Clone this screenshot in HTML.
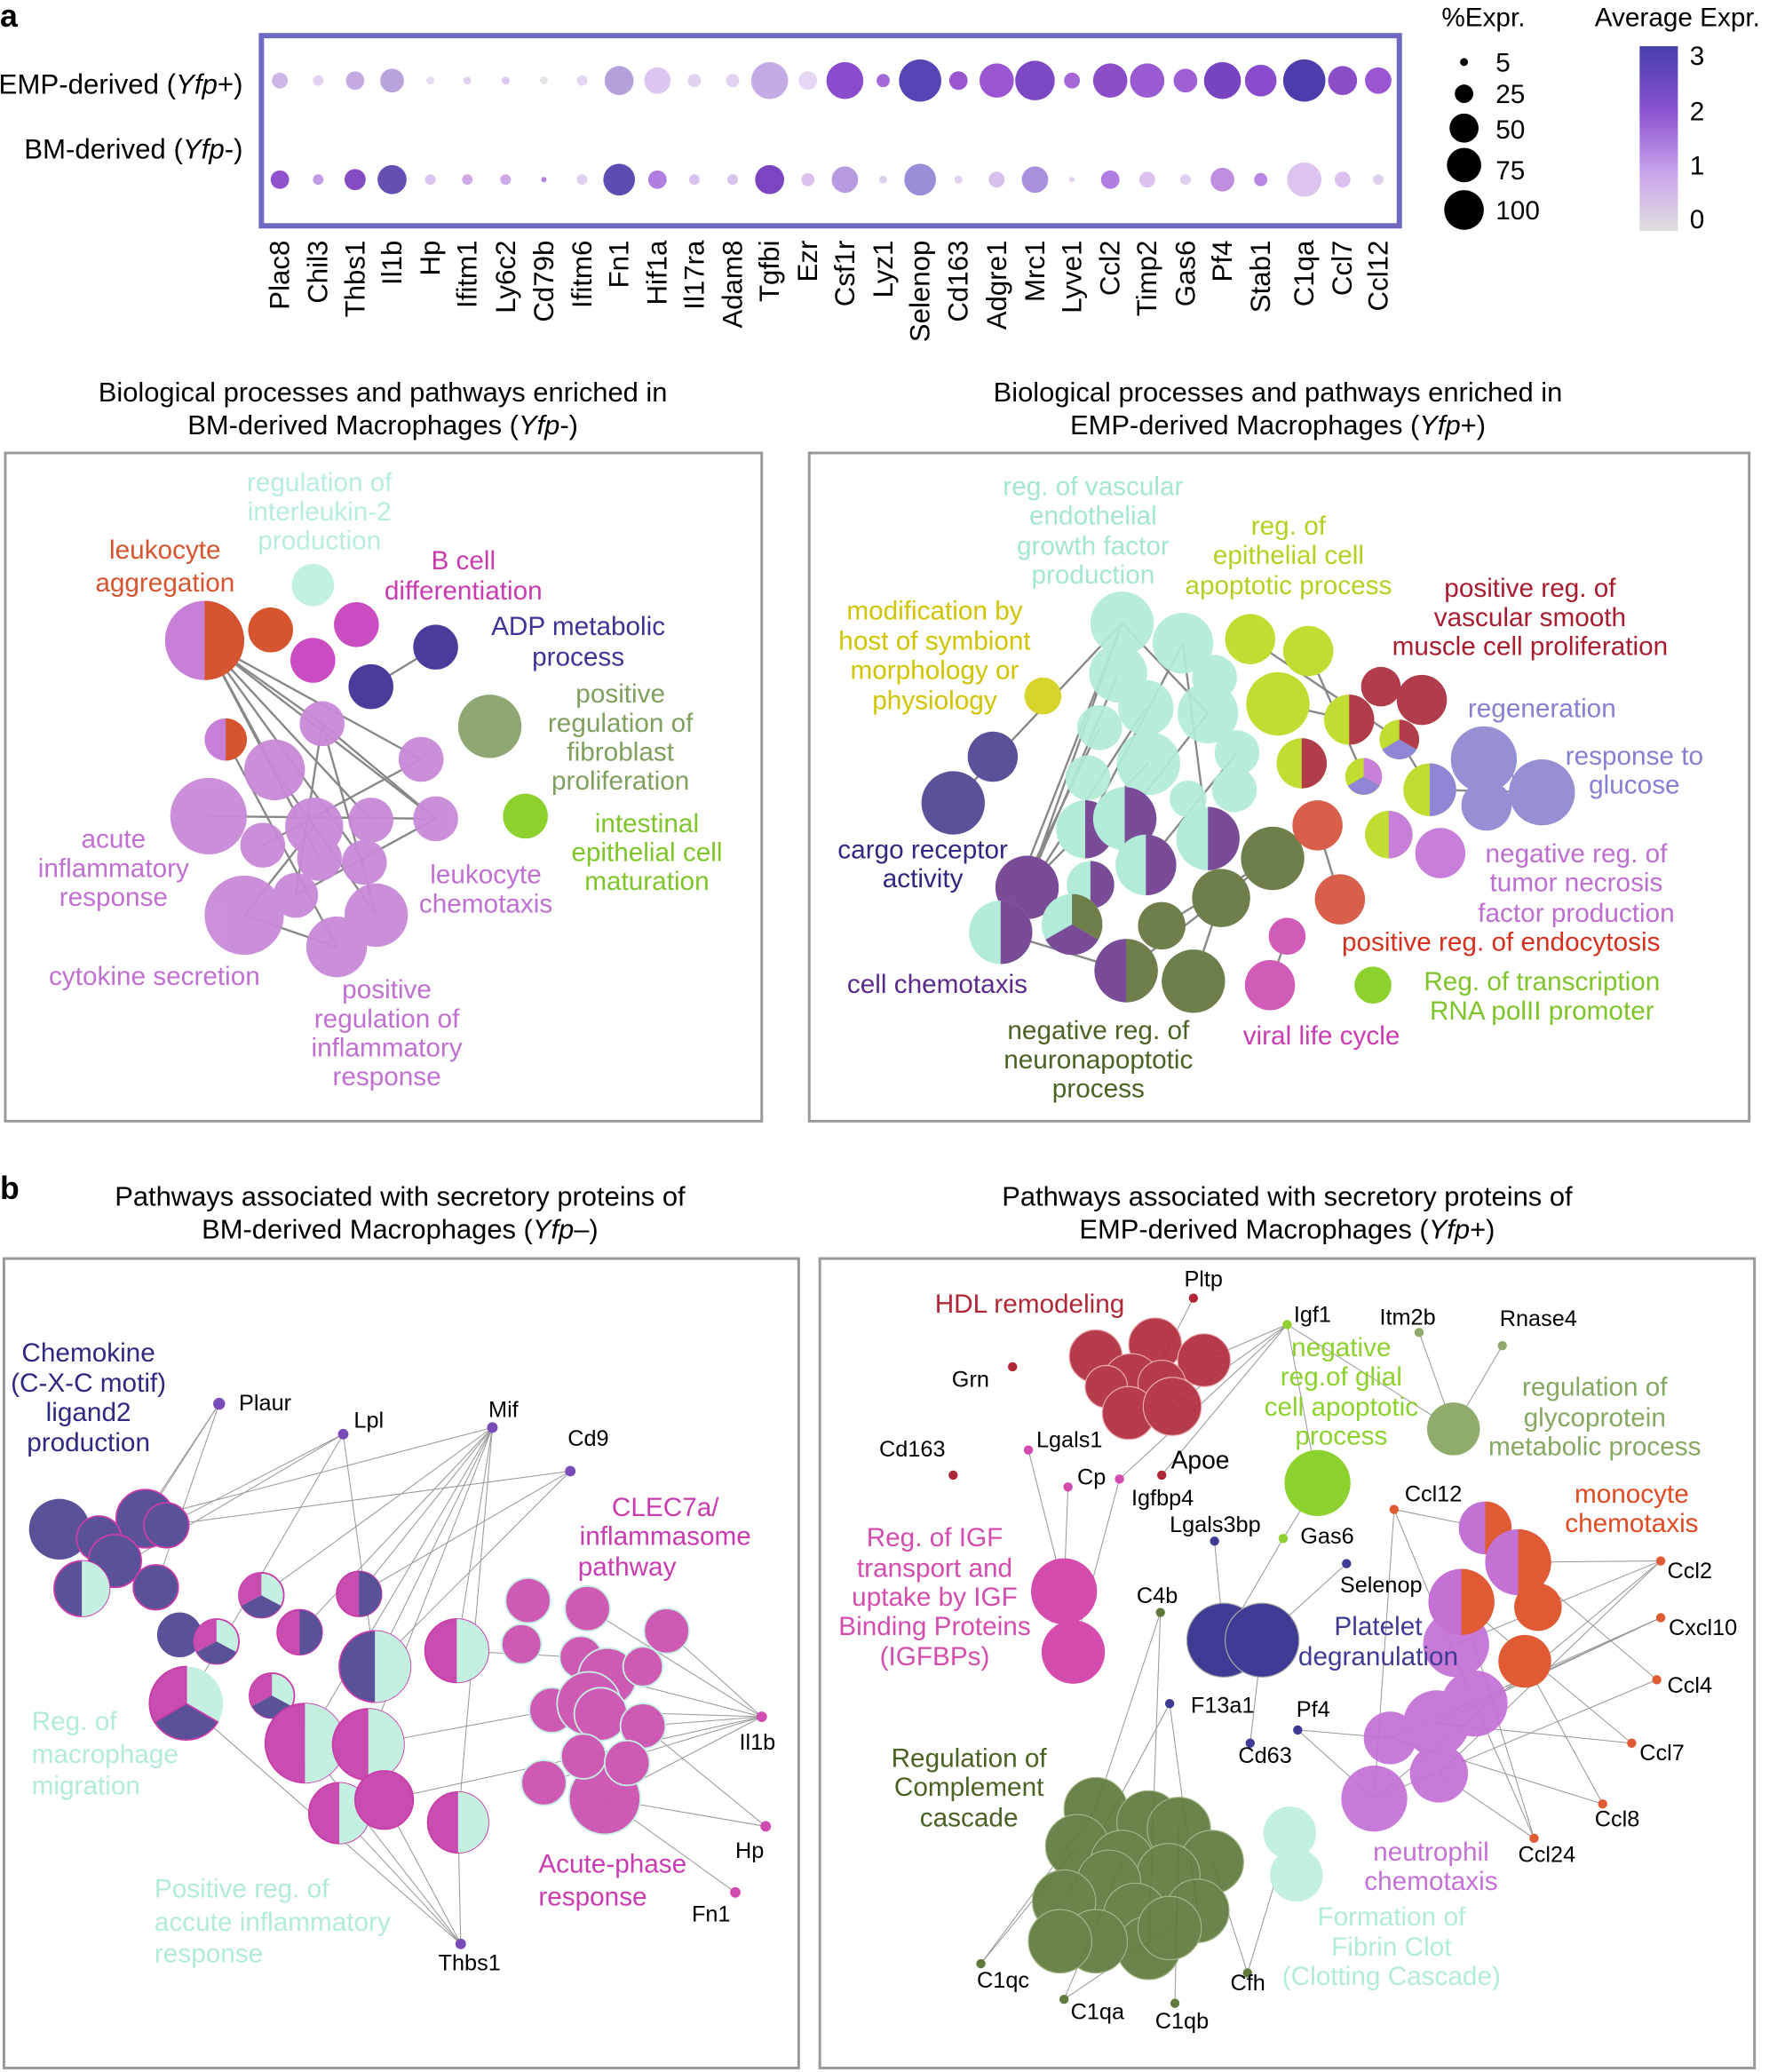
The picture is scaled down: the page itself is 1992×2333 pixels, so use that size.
<!DOCTYPE html>
<html><head><meta charset="utf-8"><style>
html,body{margin:0;padding:0;background:#fff}
svg{display:block}
text{font-family:"Liberation Sans",sans-serif}
.n{font-family:"Liberation Sans Narrow","Liberation Sans",sans-serif;font-size:20px}
.g{font-size:21px}
.e line{stroke:#888;stroke-width:1.6}
.t line{stroke:#999;stroke-width:0.7}
</style></head><body>
<svg width="1992" height="2333" viewBox="0 0 1340 1569" preserveAspectRatio="none" xmlns="http://www.w3.org/2000/svg">
<text x="0" y="20" font-size="24" font-weight="bold">a</text>
<text x="0" y="908" font-size="24" font-weight="bold">b</text>
<!-- dot plot -->
<rect x="198" y="27" width="862" height="144" fill="none" stroke="#6e68c2" stroke-width="4"/>
<text x="184" y="71" font-size="21" text-anchor="end">EMP-derived (<tspan font-style="italic">Yfp</tspan>+)</text>
<text x="184" y="120" font-size="21" text-anchor="end">BM-derived (<tspan font-style="italic">Yfp</tspan>-)</text>
<g>
<circle cx="212" cy="61" r="6" fill="#cdb5e8"/><circle cx="241" cy="61" r="4" fill="#e3d3f3"/><circle cx="269" cy="61" r="7" fill="#c6abe3"/><circle cx="297" cy="61" r="9" fill="#b9a3dd"/><circle cx="326" cy="61" r="3" fill="#e8dcf5"/><circle cx="354" cy="61" r="3" fill="#e3d3f3"/><circle cx="383" cy="61" r="3" fill="#ddc8f0"/><circle cx="412" cy="61" r="3" fill="#e4e4e4"/><circle cx="441" cy="61" r="4" fill="#e4d6f3"/><circle cx="469" cy="61" r="11" fill="#b4a1dc"/><circle cx="498" cy="61" r="10" fill="#dcc6f0"/><circle cx="526" cy="61" r="5" fill="#e3d3f3"/><circle cx="555" cy="61" r="5" fill="#e3d3f3"/><circle cx="583" cy="61" r="14" fill="#c3ace5"/><circle cx="612" cy="61" r="7" fill="#e6d8f4"/><circle cx="640" cy="61" r="14" fill="#8a4ccc"/><circle cx="669" cy="61" r="5" fill="#a66ad8"/><circle cx="697" cy="61" r="16" fill="#5646b5"/><circle cx="726" cy="61" r="7" fill="#9a55d0"/><circle cx="755" cy="61" r="13" fill="#9a56d2"/><circle cx="784" cy="61" r="15" fill="#7d48c4"/><circle cx="812" cy="61" r="6" fill="#a566d7"/><circle cx="841" cy="61" r="13" fill="#8c4dc9"/><circle cx="869" cy="61" r="13" fill="#9a5ad2"/><circle cx="898" cy="61" r="9" fill="#a060d5"/><circle cx="926" cy="61" r="14" fill="#7844c0"/><circle cx="955" cy="61" r="12" fill="#8a4ccc"/><circle cx="988" cy="61" r="16" fill="#4b3dab"/><circle cx="1017" cy="61" r="11" fill="#8c4dc9"/><circle cx="1044" cy="61" r="10" fill="#9a56d2"/>
<circle cx="212" cy="136" r="7" fill="#8f52cc"/><circle cx="241" cy="136" r="4" fill="#c19be6"/><circle cx="269" cy="136" r="8" fill="#844cc4"/><circle cx="297" cy="136" r="11" fill="#6350b2"/><circle cx="326" cy="136" r="4" fill="#dcc4f0"/><circle cx="354" cy="136" r="4" fill="#cfa8e8"/><circle cx="383" cy="136" r="4" fill="#cfa8e8"/><circle cx="412" cy="136" r="2" fill="#b585e0"/><circle cx="441" cy="136" r="4" fill="#e0d0f0"/><circle cx="469" cy="136" r="12" fill="#5f4cb2"/><circle cx="498" cy="136" r="7" fill="#b07ee0"/><circle cx="526" cy="136" r="4" fill="#d8c2ee"/><circle cx="555" cy="136" r="4" fill="#d8c2ee"/><circle cx="583" cy="136" r="11" fill="#7b45c2"/><circle cx="612" cy="136" r="5" fill="#dcc1ef"/><circle cx="640" cy="136" r="10" fill="#b89ae0"/><circle cx="669" cy="136" r="3" fill="#e0d0f0"/><circle cx="697" cy="136" r="12" fill="#9a8cd8"/><circle cx="726" cy="136" r="3" fill="#e0d0f0"/><circle cx="755" cy="136" r="6" fill="#d8c0ec"/><circle cx="784" cy="136" r="10" fill="#a890dc"/><circle cx="812" cy="136" r="2" fill="#e0d0f0"/><circle cx="841" cy="136" r="7" fill="#b07ee0"/><circle cx="869" cy="136" r="6" fill="#dcc1ef"/><circle cx="898" cy="136" r="4" fill="#e0d0f0"/><circle cx="926" cy="136" r="9" fill="#c08ee0"/><circle cx="955" cy="136" r="5" fill="#b585e0"/><circle cx="988" cy="136" r="13" fill="#dcc4ef"/><circle cx="1017" cy="136" r="6" fill="#dcc1ef"/><circle cx="1044" cy="136" r="4" fill="#e0d0f0"/>
</g>
<g class="g">
<text transform="translate(219,182) rotate(-90)" text-anchor="end">Plac8</text>
<text transform="translate(248,182) rotate(-90)" text-anchor="end">Chil3</text>
<text transform="translate(276,182) rotate(-90)" text-anchor="end">Thbs1</text>
<text transform="translate(304,182) rotate(-90)" text-anchor="end">Il1b</text>
<text transform="translate(333,182) rotate(-90)" text-anchor="end">Hp</text>
<text transform="translate(361,182) rotate(-90)" text-anchor="end">Ifitm1</text>
<text transform="translate(390,182) rotate(-90)" text-anchor="end">Ly6c2</text>
<text transform="translate(419,182) rotate(-90)" text-anchor="end">Cd79b</text>
<text transform="translate(448,182) rotate(-90)" text-anchor="end">Ifitm6</text>
<text transform="translate(476,182) rotate(-90)" text-anchor="end">Fn1</text>
<text transform="translate(505,182) rotate(-90)" text-anchor="end">Hif1a</text>
<text transform="translate(533,182) rotate(-90)" text-anchor="end">Il17ra</text>
<text transform="translate(562,182) rotate(-90)" text-anchor="end">Adam8</text>
<text transform="translate(590,182) rotate(-90)" text-anchor="end">Tgfbi</text>
<text transform="translate(619,182) rotate(-90)" text-anchor="end">Ezr</text>
<text transform="translate(647,182) rotate(-90)" text-anchor="end">Csf1r</text>
<text transform="translate(676,182) rotate(-90)" text-anchor="end">Lyz1</text>
<text transform="translate(704,182) rotate(-90)" text-anchor="end">Selenop</text>
<text transform="translate(733,182) rotate(-90)" text-anchor="end">Cd163</text>
<text transform="translate(762,182) rotate(-90)" text-anchor="end">Adgre1</text>
<text transform="translate(791,182) rotate(-90)" text-anchor="end">Mrc1</text>
<text transform="translate(819,182) rotate(-90)" text-anchor="end">Lyve1</text>
<text transform="translate(848,182) rotate(-90)" text-anchor="end">Ccl2</text>
<text transform="translate(876,182) rotate(-90)" text-anchor="end">Timp2</text>
<text transform="translate(905,182) rotate(-90)" text-anchor="end">Gas6</text>
<text transform="translate(933,182) rotate(-90)" text-anchor="end">Pf4</text>
<text transform="translate(962,182) rotate(-90)" text-anchor="end">Stab1</text>
<text transform="translate(995,182) rotate(-90)" text-anchor="end">C1qa</text>
<text transform="translate(1024,182) rotate(-90)" text-anchor="end">Ccl7</text>
<text transform="translate(1051,182) rotate(-90)" text-anchor="end">Ccl12</text>
</g>
<!-- legends -->
<text x="1092" y="20" font-size="20">%Expr.</text>
<circle cx="1109" cy="47" r="3" fill="#000"/><text x="1133" y="54" font-size="20">5</text>
<circle cx="1109" cy="71" r="7" fill="#000"/><text x="1133" y="78" font-size="20">25</text>
<circle cx="1109" cy="97" r="11" fill="#000"/><text x="1133" y="105" font-size="20">50</text>
<circle cx="1109" cy="125" r="13" fill="#000"/><text x="1133" y="136" font-size="20">75</text>
<circle cx="1109" cy="159" r="15" fill="#000"/><text x="1133" y="166" font-size="20">100</text>
<text x="1208" y="20" font-size="20">Average Expr.</text>
<defs><linearGradient id="cb" x1="0" y1="0" x2="0" y2="1"><stop offset="0" stop-color="#4840ab"/><stop offset="0.35" stop-color="#8a52cf"/><stop offset="0.7" stop-color="#cda8ec"/><stop offset="1" stop-color="#dedede"/></linearGradient></defs>
<rect x="1242" y="35" width="29" height="140" fill="url(#cb)"/>
<text x="1280" y="49" font-size="20">3</text><text x="1280" y="91" font-size="20">2</text><text x="1280" y="132" font-size="20">1</text><text x="1280" y="173" font-size="20">0</text>
<!-- a titles -->
<text x="290" y="304" font-size="20.8" text-anchor="middle">Biological processes and pathways enriched in</text>
<text x="290" y="329" font-size="20.8" text-anchor="middle">BM-derived Macrophages (<tspan font-style="italic">Yfp</tspan>-)</text>
<text x="968" y="304" font-size="20.8" text-anchor="middle">Biological processes and pathways enriched in</text>
<text x="968" y="329" font-size="20.8" text-anchor="middle">EMP-derived Macrophages (<tspan font-style="italic">Yfp</tspan>+)</text>
<rect x="4" y="343" width="573" height="506" fill="none" stroke="#999" stroke-width="2"/>
<rect x="613" y="343" width="712" height="506" fill="none" stroke="#999" stroke-width="2"/>
<!-- left a network -->
<g class="e">
<line x1="155" y1="485" x2="244" y2="548"/><line x1="155" y1="485" x2="319" y2="575"/><line x1="155" y1="485" x2="281" y2="621"/><line x1="155" y1="485" x2="330" y2="620"/><line x1="155" y1="485" x2="242" y2="650"/><line x1="155" y1="485" x2="276" y2="653"/><line x1="244" y1="548" x2="285" y2="693"/><line x1="244" y1="548" x2="330" y2="620"/><line x1="208" y1="583" x2="285" y2="693"/><line x1="281" y1="520" x2="330" y2="490"/><line x1="158" y1="618" x2="330" y2="620"/><line x1="185" y1="693" x2="238" y2="626"/><line x1="171" y1="560" x2="255" y2="717"/><line x1="199" y1="640" x2="319" y2="575"/><line x1="224" y1="678" x2="330" y2="620"/><line x1="185" y1="693" x2="255" y2="717"/><line x1="155" y1="485" x2="208" y2="583"/><line x1="244" y1="548" x2="224" y2="678"/>
</g>
<g>
<circle cx="155" cy="485" r="30" fill="#c77fd8"/><path d="M155,455 A30,30 0 0 1 155,515 Z" fill="#d6542e"/>
<circle cx="205" cy="477" r="17" fill="#d6542e"/><circle cx="237" cy="443" r="16" fill="#c2f0e2"/><circle cx="270" cy="473" r="17" fill="#c94cc0"/><circle cx="237" cy="500" r="17" fill="#c94cc0"/><circle cx="281" cy="520" r="17" fill="#4b3b9b"/><circle cx="330" cy="490" r="17" fill="#4b3b9b"/><circle cx="371" cy="550" r="24" fill="#8fa873"/><circle cx="398" cy="618" r="17" fill="#8dd12f"/>
<circle cx="171" cy="560" r="16" fill="#c77fd8"/><path d="M171,544 A16,16 0 0 1 171,576 Z" fill="#d6542e"/>
<g fill="#c98ad9" opacity="0.95"><circle cx="244" cy="548" r="17"/><circle cx="208" cy="583" r="23"/><circle cx="319" cy="575" r="17"/><circle cx="158" cy="618" r="29"/><circle cx="238" cy="626" r="22"/><circle cx="281" cy="621" r="17"/><circle cx="330" cy="620" r="17"/><circle cx="199" cy="640" r="17"/><circle cx="242" cy="650" r="17"/><circle cx="276" cy="653" r="17"/><circle cx="185" cy="693" r="30"/><circle cx="224" cy="678" r="17"/><circle cx="285" cy="693" r="24"/><circle cx="255" cy="717" r="23"/></g>
</g>
<g class="n" text-anchor="middle">
<text fill="#b7ece0"><tspan x="242" y="372">regulation of</tspan><tspan x="242" y="394">interleukin-2</tspan><tspan x="242" y="416">production</tspan></text>
<text fill="#d6542e"><tspan x="125" y="423">leukocyte</tspan><tspan x="125" y="448">aggregation</tspan></text>
<text fill="#c93cb0"><tspan x="351" y="431">B cell</tspan><tspan x="351" y="454">differentiation</tspan></text>
<text fill="#3d3595"><tspan x="438" y="481">ADP metabolic</tspan><tspan x="438" y="504">process</tspan></text>
<text fill="#7f9f5f"><tspan x="470" y="532">positive</tspan><tspan x="470" y="554">regulation of</tspan><tspan x="470" y="576">fibroblast</tspan><tspan x="470" y="598">proliferation</tspan></text>
<text fill="#7fc42a"><tspan x="490" y="630">intestinal</tspan><tspan x="490" y="652">epithelial cell</tspan><tspan x="490" y="674">maturation</tspan></text>
<text fill="#c070d0"><tspan x="86" y="642">acute</tspan><tspan x="86" y="664">inflammatory</tspan><tspan x="86" y="686">response</tspan></text>
<text fill="#c070d0"><tspan x="368" y="669">leukocyte</tspan><tspan x="368" y="691">chemotaxis</tspan></text>
<text fill="#c070d0" x="117" y="746">cytokine secretion</text>
<text fill="#c070d0"><tspan x="293" y="756">positive</tspan><tspan x="293" y="778">regulation of</tspan><tspan x="293" y="800">inflammatory</tspan><tspan x="293" y="822">response</tspan></text>
</g>
<!-- right a network -->
<g class="e">
<line x1="850" y1="472" x2="758" y2="706"/><line x1="850" y1="472" x2="778" y2="672"/><line x1="868" y1="536" x2="758" y2="706"/><line x1="847" y1="510" x2="778" y2="672"/><line x1="896" y1="487" x2="822" y2="628"/><line x1="915" y1="540" x2="852" y2="620"/><line x1="870" y1="578" x2="778" y2="672"/><line x1="937" y1="570" x2="868" y2="655"/><line x1="833" y1="551" x2="758" y2="706"/><line x1="896" y1="487" x2="915" y2="635"/><line x1="850" y1="472" x2="915" y2="540"/><line x1="968" y1="533" x2="1022" y2="545"/><line x1="947" y1="484" x2="1060" y2="560"/><line x1="991" y1="493" x2="1033" y2="588"/><line x1="1060" y1="560" x2="1083" y2="598"/><line x1="998" y1="625" x2="1015" y2="681"/><line x1="975" y1="709" x2="962" y2="746"/><line x1="964" y1="650" x2="880" y2="701"/><line x1="964" y1="650" x2="853" y2="735"/><line x1="925" y1="680" x2="904" y2="743"/><line x1="1124" y1="575" x2="1168" y2="600"/><line x1="1083" y1="598" x2="1168" y2="600"/><line x1="758" y1="706" x2="853" y2="735"/><line x1="722" y1="608" x2="850" y2="472"/>
</g>
<g>
<g fill="#b2ecd8" opacity="0.92"><circle cx="850" cy="472" r="24"/><circle cx="896" cy="487" r="23"/><circle cx="920" cy="513" r="17"/><circle cx="847" cy="510" r="22"/><circle cx="868" cy="536" r="21"/><circle cx="915" cy="540" r="23"/><circle cx="833" cy="551" r="17"/><circle cx="870" cy="578" r="24"/><circle cx="937" cy="570" r="17"/><circle cx="935" cy="598" r="17"/><circle cx="824" cy="589" r="17"/><circle cx="900" cy="605" r="14"/></g>
<g fill="#c2dc32"><circle cx="947" cy="484" r="19"/><circle cx="991" cy="493" r="19"/><circle cx="968" cy="533" r="24"/></g>
<g fill="#b03c4c"><circle cx="1046" cy="520" r="15"/><circle cx="1077" cy="530" r="19"/></g>
<circle cx="1022" cy="545" r="19" fill="#c2dc32"/><path d="M1022,526 A19,19 0 0 1 1022,564 Z" fill="#b03c4c"/>
<circle cx="986" cy="578" r="19" fill="#c2dc32"/><path d="M986,559 A19,19 0 0 1 986,597 Z" fill="#b03c4c"/>
<circle cx="1060" cy="560" r="15" fill="#c2dc32"/><path d="M1060,545 A15,15 0 0 1 1073,567.5 L1060,560Z" fill="#b03c4c"/><path d="M1073,567.5 A15,15 0 0 1 1047,567.5 L1060,560Z" fill="#8f86d6"/>
<circle cx="1033" cy="588" r="14" fill="#c2dc32"/><path d="M1033,574 A14,14 0 0 1 1045,595 L1033,588Z" fill="#c87fd9"/><path d="M1045,595 A14,14 0 0 1 1021,595 L1033,588Z" fill="#8f86d6"/>
<circle cx="1083" cy="598" r="20" fill="#c2dc32"/><path d="M1083,578 A20,20 0 0 1 1083,618 Z" fill="#8f86d6"/>
<circle cx="1052" cy="632" r="18" fill="#c2dc32"/><path d="M1052,614 A18,18 0 0 1 1052,650 Z" fill="#c87fd9"/>
<g fill="#9590d4"><circle cx="1124" cy="575" r="25"/><circle cx="1168" cy="600" r="25"/><circle cx="1126" cy="610" r="19"/></g>
<circle cx="1091" cy="646" r="19" fill="#c87fd9"/>
<circle cx="752" cy="573" r="19" fill="#5a5299"/><circle cx="722" cy="608" r="24" fill="#5a5299"/>
<circle cx="790" cy="527" r="14" fill="#d8d42e"/>
<g>
<circle cx="822" cy="628" r="22" fill="#b2ecd8"/><path d="M822,606 A22,22 0 0 1 822,650 Z" fill="#7a4c98"/>
<circle cx="852" cy="620" r="24" fill="#b2ecd8"/><path d="M852,596 A24,24 0 0 1 852,644 Z" fill="#7a4c98"/>
<circle cx="868" cy="655" r="23" fill="#b2ecd8"/><path d="M868,632 A23,23 0 0 1 868,678 Z" fill="#7a4c98"/>
<circle cx="915" cy="635" r="24" fill="#b2ecd8"/><path d="M915,611 A24,24 0 0 1 915,659 Z" fill="#7a4c98"/>
<circle cx="826" cy="670" r="18" fill="#b2ecd8"/><path d="M826,652 A18,18 0 0 1 826,688 Z" fill="#7a4c98"/>
<circle cx="778" cy="672" r="24" fill="#7a4c98"/>
<circle cx="758" cy="706" r="24" fill="#b2ecd8"/><path d="M758,682 A24,24 0 0 1 758,730 Z" fill="#7a4c98"/>
<circle cx="812" cy="700" r="23" fill="#b2ecd8"/><path d="M812,677 A23,23 0 0 1 832,711.5 L812,700Z" fill="#6e7f4c"/><path d="M832,711.5 A23,23 0 0 1 792,711.5 L812,700Z" fill="#7a4c98"/>
<circle cx="853" cy="735" r="24" fill="#7a4c98"/><path d="M853,711 A24,24 0 0 1 853,759 Z" fill="#6e7f4c"/>
</g>
<g fill="#6e7f4c"><circle cx="964" cy="650" r="24"/><circle cx="880" cy="701" r="18"/><circle cx="925" cy="680" r="22"/><circle cx="904" cy="743" r="24"/></g>
<g fill="#d8604a"><circle cx="998" cy="625" r="19"/><circle cx="1015" cy="681" r="19"/></g>
<g fill="#d05cb8"><circle cx="975" cy="709" r="14"/><circle cx="962" cy="746" r="19"/></g>
<circle cx="1040" cy="746" r="14" fill="#8dd12f"/>
</g>
<g class="n" text-anchor="middle">
<text fill="#a4e6d2"><tspan x="828" y="375">reg. of vascular</tspan><tspan x="828" y="397">endothelial</tspan><tspan x="828" y="420">growth factor</tspan><tspan x="828" y="442">production</tspan></text>
<text fill="#b5d022"><tspan x="976" y="405">reg. of</tspan><tspan x="976" y="427">epithelial cell</tspan><tspan x="976" y="450">apoptotic process</tspan></text>
<text fill="#a81c30"><tspan x="1159" y="452">positive reg. of</tspan><tspan x="1159" y="474">vascular smooth</tspan><tspan x="1159" y="496">muscle cell proliferation</tspan></text>
<text fill="#d0c400"><tspan x="708" y="469">modification by</tspan><tspan x="708" y="492">host of symbiont</tspan><tspan x="708" y="514">morphology or</tspan><tspan x="708" y="537">physiology</tspan></text>
<text fill="#8580d2" x="1168" y="543">regeneration</text>
<text fill="#8580d2"><tspan x="1238" y="579">response to</tspan><tspan x="1238" y="601">glucose</tspan></text>
<text fill="#2e2880"><tspan x="699" y="650">cargo receptor</tspan><tspan x="699" y="672">activity</tspan></text>
<text fill="#bd6fd0"><tspan x="1194" y="653">negative reg. of</tspan><tspan x="1194" y="675">tumor necrosis</tspan><tspan x="1194" y="698">factor production</tspan></text>
<text fill="#d4301e" x="1137" y="720">positive reg. of endocytosis</text>
<text fill="#5a2a88" x="710" y="752">cell chemotaxis</text>
<text fill="#7fc42a"><tspan x="1168" y="750">Reg. of transcription</tspan><tspan x="1168" y="772">RNA polII promoter</tspan></text>
<text fill="#4a6224"><tspan x="832" y="787">negative reg. of</tspan><tspan x="832" y="809">neuronapoptotic</tspan><tspan x="832" y="831">process</tspan></text>
<text fill="#c93cb0" x="1001" y="791">viral life cycle</text>
</g>
<!-- b titles -->
<text x="303" y="913" font-size="20.8" text-anchor="middle">Pathways associated with secretory proteins of</text>
<text x="303" y="938" font-size="20.8" text-anchor="middle">BM-derived Macrophages (<tspan font-style="italic">Yfp</tspan>–)</text>
<text x="975" y="913" font-size="20.8" text-anchor="middle">Pathways associated with secretory proteins of</text>
<text x="975" y="938" font-size="20.8" text-anchor="middle">EMP-derived Macrophages (<tspan font-style="italic">Yfp</tspan>+)</text>
<rect x="3" y="953" width="602" height="613" fill="none" stroke="#999" stroke-width="2"/>
<rect x="621" y="953" width="708" height="613" fill="none" stroke="#999" stroke-width="2"/>
<!-- left b -->
<g class="t">
<line x1="166" y1="1063" x2="87" y2="1182"/><line x1="166" y1="1063" x2="110" y2="1150"/><line x1="166" y1="1063" x2="118" y2="1202"/><line x1="260" y1="1086" x2="62" y2="1203"/><line x1="260" y1="1086" x2="126" y2="1155"/><line x1="260" y1="1086" x2="141" y2="1290"/><line x1="260" y1="1086" x2="284" y2="1262"/><line x1="373" y1="1081" x2="110" y2="1150"/><line x1="373" y1="1081" x2="198" y2="1208"/><line x1="373" y1="1081" x2="227" y2="1236"/><line x1="373" y1="1081" x2="272" y2="1207"/><line x1="373" y1="1081" x2="284" y2="1262"/><line x1="373" y1="1081" x2="279" y2="1321"/><line x1="373" y1="1081" x2="346" y2="1250"/><line x1="373" y1="1081" x2="347" y2="1380"/><line x1="373" y1="1081" x2="231" y2="1320"/><line x1="432" y1="1114" x2="126" y2="1155"/><line x1="432" y1="1114" x2="272" y2="1207"/><line x1="432" y1="1114" x2="284" y2="1262"/><line x1="577" y1="1300" x2="505" y2="1235"/><line x1="577" y1="1300" x2="460" y2="1270"/><line x1="577" y1="1300" x2="487" y2="1307"/><line x1="577" y1="1300" x2="442" y2="1330"/><line x1="577" y1="1300" x2="458" y2="1362"/><line x1="577" y1="1300" x2="418" y2="1295"/><line x1="577" y1="1300" x2="445" y2="1218"/><line x1="577" y1="1300" x2="412" y2="1350"/><line x1="580" y1="1383" x2="458" y2="1362"/><line x1="580" y1="1383" x2="487" y2="1307"/><line x1="557" y1="1433" x2="458" y2="1362"/><line x1="349" y1="1472" x2="141" y2="1290"/><line x1="349" y1="1472" x2="257" y2="1373"/><line x1="349" y1="1472" x2="291" y2="1363"/><line x1="349" y1="1472" x2="347" y2="1380"/><line x1="349" y1="1472" x2="231" y2="1320"/><line x1="291" y1="1363" x2="442" y2="1330"/><line x1="279" y1="1321" x2="418" y2="1295"/><line x1="346" y1="1250" x2="440" y2="1255"/>
</g>
<g stroke="#c93ca8" stroke-width="1.2">
<g fill="#5a5299"><circle cx="45" cy="1158" r="23" stroke="none"/><circle cx="110" cy="1150" r="22"/><circle cx="126" cy="1155" r="17"/><circle cx="75" cy="1165" r="17"/><circle cx="87" cy="1182" r="20"/><circle cx="118" cy="1202" r="17"/><circle cx="136" cy="1238" r="17" stroke="none"/></g>
<circle cx="62" cy="1203" r="21" fill="#5a5299"/><path d="M62,1182 A21,21 0 0 1 62,1224 Z" fill="#c4f0e2" stroke="none"/>
<circle cx="164" cy="1243" r="17" fill="#c4f0e2"/><path d="M164,1243 L164,1226 A17,17 0 0 0 149,1251 Z" fill="#c94cb0" stroke="none"/><path d="M164,1243 L149,1251 A17,17 0 0 0 179,1251 Z" fill="#5a5299" stroke="none"/>
<circle cx="198" cy="1208" r="17" fill="#c4f0e2"/><path d="M198,1208 L198,1191 A17,17 0 0 0 183,1216 Z" fill="#c94cb0" stroke="none"/><path d="M198,1208 L183,1216 A17,17 0 0 0 213,1216 Z" fill="#5a5299" stroke="none"/>
<circle cx="227" cy="1236" r="17" fill="#c94cb0"/><path d="M227,1219 A17,17 0 0 1 227,1253 Z" fill="#5a5299" stroke="none"/>
<circle cx="272" cy="1207" r="17" fill="#c94cb0"/><path d="M272,1190 A17,17 0 0 1 272,1224 Z" fill="#5a5299" stroke="none"/>
<circle cx="141" cy="1290" r="28" fill="#c4f0e2" stroke="none"/><path d="M141,1290 L141,1262 A28,28 0 0 0 117,1304 Z" fill="#c94cb0"/><path d="M141,1290 L117,1304 A28,28 0 0 0 165,1304 Z" fill="#5a5299"/>
<circle cx="206" cy="1284" r="17" fill="#c4f0e2"/><path d="M206,1284 L206,1267 A17,17 0 0 0 191,1292 Z" fill="#c94cb0" stroke="none"/><path d="M206,1284 L191,1292 A17,17 0 0 0 221,1292 Z" fill="#5a5299" stroke="none"/>
<circle cx="284" cy="1262" r="27" fill="#5a5299"/><path d="M284,1235 A27,27 0 0 1 284,1289 Z" fill="#c4f0e2" stroke="none"/>
<circle cx="231" cy="1320" r="30" fill="#c94cb0"/><path d="M231,1290 A30,30 0 0 1 231,1350 Z" fill="#c4f0e2" stroke="none"/>
<circle cx="279" cy="1321" r="27" fill="#c94cb0"/><path d="M279,1294 A27,27 0 0 1 279,1348 Z" fill="#c4f0e2" stroke="none"/>
<circle cx="346" cy="1250" r="24" fill="#c94cb0"/><path d="M346,1226 A24,24 0 0 1 346,1274 Z" fill="#c4f0e2" stroke="none"/>
<circle cx="257" cy="1373" r="23" fill="#c94cb0"/><path d="M257,1350 A23,23 0 0 1 257,1396 Z" fill="#c4f0e2" stroke="none"/>
<circle cx="291" cy="1363" r="22" fill="#c94cb0"/>
<circle cx="347" cy="1380" r="23" fill="#c94cb0"/><path d="M347,1357 A23,23 0 0 1 347,1403 Z" fill="#c4f0e2" stroke="none"/>
<g fill="#cc52b0" opacity="0.95" stroke="#c4f0e2"><circle cx="400" cy="1212" r="17"/><circle cx="445" cy="1218" r="17"/><circle cx="395" cy="1245" r="15"/><circle cx="505" cy="1235" r="17"/><circle cx="458" cy="1362" r="27"/><circle cx="440" cy="1255" r="16"/><circle cx="460" cy="1270" r="22"/><circle cx="487" cy="1262" r="15"/><circle cx="418" cy="1295" r="17"/><circle cx="446" cy="1290" r="24"/><circle cx="455" cy="1298" r="20"/><circle cx="487" cy="1307" r="17"/><circle cx="442" cy="1330" r="17"/><circle cx="475" cy="1335" r="17"/><circle cx="412" cy="1350" r="17"/></g>
</g>
<g fill="#7a4cb8"><circle cx="166" cy="1063" r="4.5"/><circle cx="260" cy="1086" r="4"/><circle cx="373" cy="1081" r="4"/><circle cx="432" cy="1114" r="4"/><circle cx="349" cy="1472" r="4"/></g>
<g fill="#d04cb0"><circle cx="577" cy="1300" r="4"/><circle cx="580" cy="1383" r="4"/><circle cx="557" cy="1433" r="4"/></g>
<g font-size="17">
<text x="181" y="1068">Plaur</text><text x="268" y="1081">Lpl</text><text x="370" y="1073">Mif</text><text x="430" y="1095">Cd9</text><text x="560" y="1325">Il1b</text><text x="557" y="1407">Hp</text><text x="524" y="1455">Fn1</text><text x="332" y="1492">Thbs1</text>
</g>
<g class="n" text-anchor="middle">
<text fill="#2e2880"><tspan x="67" y="1031">Chemokine</tspan><tspan x="67" y="1054">(C-X-C motif)</tspan><tspan x="67" y="1076">ligand2</tspan><tspan x="67" y="1099">production</tspan></text>
<text fill="#c93cb0"><tspan x="504" y="1148">CLEC7a/</tspan><tspan x="504" y="1170">inflammasome</tspan><tspan x="475" y="1193">pathway</tspan></text>
<text fill="#b2ecd8" text-anchor="start"><tspan x="24" y="1310">Reg. of</tspan><tspan x="24" y="1335">macrophage</tspan><tspan x="24" y="1359">migration</tspan></text>
<text fill="#c93cb0"><tspan x="464" y="1418">Acute-phase</tspan><tspan x="449" y="1443">response</tspan></text>
<text fill="#b2ecd8" text-anchor="start"><tspan x="117" y="1437">Positive reg. of</tspan><tspan x="117" y="1462">accute inflammatory</tspan><tspan x="117" y="1486">response</tspan></text>
</g>
<!-- right b -->
<g class="t">
<line x1="975" y1="1003" x2="888" y2="1065"/><line x1="975" y1="1003" x2="912" y2="1030"/><line x1="975" y1="1003" x2="880" y2="1117"/><line x1="975" y1="1003" x2="998" y2="1123"/><line x1="975" y1="1003" x2="1101" y2="1082"/><line x1="975" y1="1003" x2="848" y2="1120"/><line x1="1075" y1="1009" x2="1101" y2="1082"/><line x1="1138" y1="1019" x2="1101" y2="1082"/><line x1="904" y1="983" x2="880" y2="1030"/><line x1="779" y1="1098" x2="806" y2="1205"/><line x1="809" y1="1126" x2="806" y2="1205"/><line x1="848" y1="1120" x2="813" y2="1251"/><line x1="1056" y1="1143" x2="1125" y2="1157"/><line x1="1056" y1="1143" x2="1117" y2="1290"/><line x1="1056" y1="1143" x2="1041" y2="1362"/><line x1="1258" y1="1182" x2="1150" y2="1183"/><line x1="1258" y1="1182" x2="1090" y2="1343"/><line x1="1258" y1="1182" x2="1103" y2="1245"/><line x1="1258" y1="1182" x2="1041" y2="1362"/><line x1="1258" y1="1225" x2="1117" y2="1290"/><line x1="1258" y1="1225" x2="1088" y2="1305"/><line x1="1258" y1="1225" x2="1053" y2="1316"/><line x1="1255" y1="1272" x2="1150" y2="1183"/><line x1="1255" y1="1272" x2="1041" y2="1362"/><line x1="1236" y1="1320" x2="1107" y2="1213"/><line x1="1236" y1="1320" x2="1088" y2="1305"/><line x1="1214" y1="1366" x2="1155" y2="1258"/><line x1="1214" y1="1366" x2="1053" y2="1316"/><line x1="1162" y1="1392" x2="1090" y2="1343"/><line x1="1162" y1="1392" x2="1117" y2="1290"/><line x1="1162" y1="1392" x2="1107" y2="1213"/><line x1="879" y1="1221" x2="830" y2="1370"/><line x1="879" y1="1221" x2="870" y2="1475"/><line x1="886" y1="1290" x2="806" y2="1440"/><line x1="886" y1="1290" x2="907" y2="1447"/><line x1="743" y1="1487" x2="816" y2="1398"/><line x1="743" y1="1487" x2="830" y2="1370"/><line x1="806" y1="1514" x2="850" y2="1410"/><line x1="806" y1="1514" x2="886" y2="1460"/><line x1="890" y1="1517" x2="893" y2="1385"/><line x1="945" y1="1494" x2="918" y2="1410"/><line x1="945" y1="1494" x2="977" y2="1388"/><line x1="972" y1="1165" x2="927" y2="1242"/><line x1="972" y1="1165" x2="998" y2="1123"/><line x1="1020" y1="1184" x2="956" y2="1242"/><line x1="983" y1="1310" x2="1041" y2="1362"/><line x1="983" y1="1310" x2="1053" y2="1316"/><line x1="920" y1="1167" x2="927" y2="1242"/><line x1="947" y1="1320" x2="956" y2="1242"/>
</g>
<g>
<g fill="#b02838" opacity="0.9" stroke="#e8a0a8" stroke-width="0.8"><circle cx="830" cy="1027" r="20"/><circle cx="875" cy="1018" r="20"/><circle cx="912" cy="1030" r="20"/><circle cx="857" cy="1047" r="22"/><circle cx="880" cy="1048" r="18"/><circle cx="838" cy="1050" r="16"/><circle cx="855" cy="1070" r="20"/><circle cx="888" cy="1065" r="22"/></g>
<circle cx="1101" cy="1082" r="20" fill="#8fac6c"/>
<circle cx="998" cy="1123" r="25" fill="#8dd12f"/>
<g fill="#d34cae"><circle cx="806" cy="1205" r="25"/><circle cx="813" cy="1251" r="24"/></g>
<g fill="#3f3a93" stroke="#aaa" stroke-width="0.8"><circle cx="927" cy="1242" r="28"/><circle cx="956" cy="1242" r="28"/></g>
<g fill="#c471d6" opacity="0.93"><circle cx="1103" cy="1245" r="25"/><circle cx="1117" cy="1290" r="25"/><circle cx="1088" cy="1305" r="25"/><circle cx="1090" cy="1343" r="22"/><circle cx="1053" cy="1316" r="20"/><circle cx="1041" cy="1362" r="25"/></g>
<circle cx="1125" cy="1157" r="20" fill="#c471d6"/><path d="M1125,1137 A20,20 0 0 1 1125,1177 Z" fill="#e05a33"/>
<circle cx="1150" cy="1183" r="25" fill="#c471d6"/><path d="M1150,1158 A25,25 0 0 1 1150,1208 Z" fill="#e05a33"/>
<circle cx="1107" cy="1213" r="25" fill="#c471d6"/><path d="M1107,1188 A25,25 0 0 1 1107,1238 Z" fill="#e05a33"/>
<g fill="#e05a33"><circle cx="1165" cy="1217" r="18"/><circle cx="1155" cy="1258" r="20"/></g>
<g fill="#c4f0e2"><circle cx="977" cy="1388" r="20"/><circle cx="982" cy="1420" r="20"/></g>
<g fill="#5e7a3c" opacity="0.92" stroke="#9db07e" stroke-width="0.8"><circle cx="830" cy="1370" r="24"/><circle cx="870" cy="1380" r="24"/><circle cx="816" cy="1398" r="24"/><circle cx="850" cy="1410" r="24"/><circle cx="893" cy="1385" r="24"/><circle cx="918" cy="1410" r="24"/><circle cx="885" cy="1420" r="24"/><circle cx="840" cy="1425" r="24"/><circle cx="806" cy="1440" r="24"/><circle cx="860" cy="1450" r="24"/><circle cx="907" cy="1447" r="24"/><circle cx="870" cy="1475" r="24"/><circle cx="830" cy="1470" r="24"/><circle cx="803" cy="1470" r="24"/><circle cx="886" cy="1460" r="24"/></g>
</g>
<g>
<circle cx="904" cy="983" r="3.5" fill="#b02838"/><circle cx="767" cy="1035" r="3.5" fill="#b02838"/><circle cx="722" cy="1117" r="3.5" fill="#b02838"/><circle cx="975" cy="1003" r="3.5" fill="#8dd12f"/><circle cx="1075" cy="1009" r="3.5" fill="#8fac6c"/><circle cx="1138" cy="1019" r="3.5" fill="#8fac6c"/><circle cx="779" cy="1098" r="3.5" fill="#d34cae"/><circle cx="809" cy="1126" r="3.5" fill="#d34cae"/><circle cx="848" cy="1120" r="3.5" fill="#d34cae"/><circle cx="880" cy="1117" r="3.5" fill="#b02838"/><circle cx="920" cy="1167" r="3.5" fill="#3f3a93"/><circle cx="972" cy="1165" r="3.5" fill="#8dd12f"/><circle cx="1020" cy="1184" r="3.5" fill="#3f3a93"/><circle cx="1056" cy="1143" r="3.5" fill="#e05a33"/><circle cx="879" cy="1221" r="3.5" fill="#5e7a3c"/><circle cx="886" cy="1290" r="3.5" fill="#3f3a93"/><circle cx="947" cy="1320" r="3.5" fill="#3f3a93"/><circle cx="983" cy="1310" r="3.5" fill="#3f3a93"/><circle cx="1258" cy="1182" r="3.5" fill="#e05a33"/><circle cx="1258" cy="1225" r="3.5" fill="#e05a33"/><circle cx="1255" cy="1272" r="3.5" fill="#e05a33"/><circle cx="1236" cy="1320" r="3.5" fill="#e05a33"/><circle cx="1214" cy="1366" r="3.5" fill="#e05a33"/><circle cx="1162" cy="1392" r="3.5" fill="#e05a33"/><circle cx="743" cy="1487" r="3.5" fill="#5e7a3c"/><circle cx="806" cy="1514" r="3.5" fill="#5e7a3c"/><circle cx="890" cy="1517" r="3.5" fill="#5e7a3c"/><circle cx="945" cy="1494" r="3.5" fill="#5e7a3c"/>
</g>
<g font-size="17">
<text x="897" y="974">Pltp</text><text x="980" y="1001">Igf1</text><text x="1045" y="1003">Itm2b</text><text x="1136" y="1004">Rnase4</text><text x="721" y="1050">Grn</text><text x="666" y="1103">Cd163</text><text x="785" y="1096">Lgals1</text><text x="816" y="1124">Cp</text><text x="887" y="1112" font-size="19">Apoe</text><text x="857" y="1140">Igfbp4</text><text x="886" y="1160">Lgals3bp</text><text x="985" y="1169">Gas6</text><text x="1064" y="1137">Ccl12</text><text x="1015" y="1206">Selenop</text><text x="861" y="1214">C4b</text><text x="902" y="1297">F13a1</text><text x="982" y="1300">Pf4</text><text x="938" y="1335">Cd63</text><text x="1263" y="1195">Ccl2</text><text x="1264" y="1238">Cxcl10</text><text x="1263" y="1282">Ccl4</text><text x="1242" y="1333">Ccl7</text><text x="1208" y="1383">Ccl8</text><text x="1150" y="1410">Ccl24</text><text x="740" y="1505">C1qc</text><text x="811" y="1529">C1qa</text><text x="875" y="1536">C1qb</text><text x="932" y="1507">Cfh</text>
</g>
<g class="n" text-anchor="middle">
<text fill="#b02838" x="780" y="994">HDL remodeling</text>
<text fill="#8dd12f"><tspan x="1016" y="1027">negative</tspan><tspan x="1016" y="1049">reg.of glial</tspan><tspan x="1016" y="1072">cell apoptotic</tspan><tspan x="1016" y="1094">process</tspan></text>
<text fill="#86a862"><tspan x="1208" y="1057">regulation of</tspan><tspan x="1208" y="1080">glycoprotein</tspan><tspan x="1208" y="1102">metabolic process</tspan></text>
<text fill="#e04a22"><tspan x="1236" y="1138">monocyte</tspan><tspan x="1236" y="1160">chemotaxis</tspan></text>
<text fill="#d34cae"><tspan x="708" y="1171">Reg. of IGF</tspan><tspan x="708" y="1194">transport and</tspan><tspan x="708" y="1216">uptake by IGF</tspan><tspan x="708" y="1238">Binding Proteins</tspan><tspan x="708" y="1261">(IGFBPs)</tspan></text>
<text fill="#3f3a93"><tspan x="1044" y="1238">Platelet</tspan><tspan x="1044" y="1261">degranulation</tspan></text>
<text fill="#4a6224"><tspan x="734" y="1338">Regulation of</tspan><tspan x="734" y="1360">Complement</tspan><tspan x="734" y="1383">cascade</tspan></text>
<text fill="#c471d6"><tspan x="1084" y="1409">neutrophil</tspan><tspan x="1084" y="1431">chemotaxis</tspan></text>
<text fill="#b2ecd8"><tspan x="1054" y="1458">Formation of</tspan><tspan x="1054" y="1481">Fibrin Clot</tspan><tspan x="1054" y="1503">(Clotting Cascade)</tspan></text>
</g>
</svg>
</body></html>
